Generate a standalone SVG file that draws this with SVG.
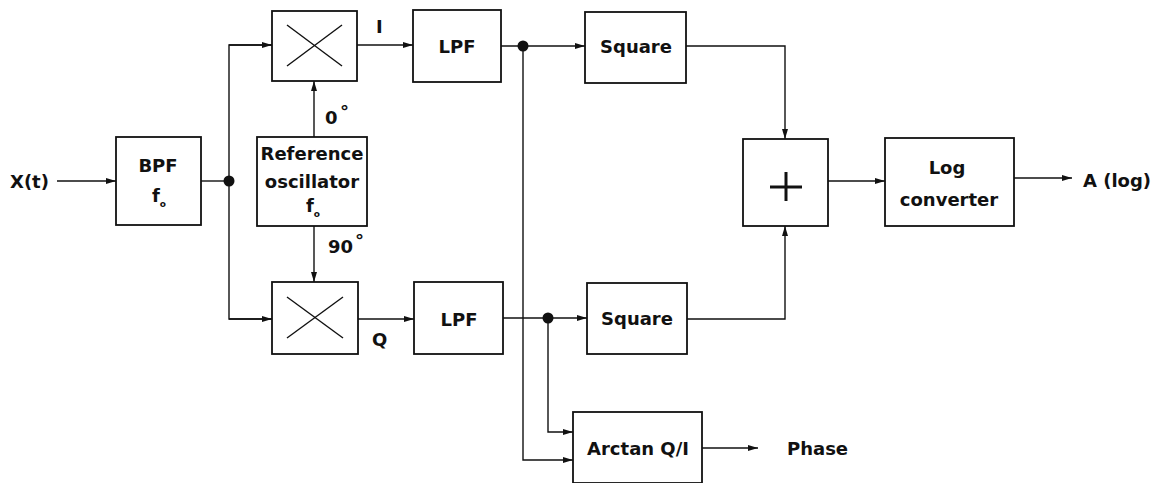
<svg xmlns="http://www.w3.org/2000/svg" width="1165" height="483" viewBox="0 0 1165 483">
<style>
.box{fill:#fff;stroke:#111;stroke-width:1.8}
.ln{fill:none;stroke:#111;stroke-width:1.4}
.t{font-family:"DejaVu Sans","Liberation Sans",sans-serif;font-weight:bold;font-size:18px;fill:#111}
.c{text-anchor:middle}
.sub{font-size:9px}
</style>
<defs>
<marker id="ah" viewBox="0 0 10 6" refX="10" refY="3" markerWidth="10" markerHeight="6" markerUnits="userSpaceOnUse" orient="auto">
<path d="M0,0 L10,3 L0,6 Z" fill="#111"/>
</marker>
</defs>
<rect width="1165" height="483" fill="#fff"/>
<g id="connectors">
<line class="ln" x1="57" y1="181" x2="116" y2="181" marker-end="url(#ah)"/>
<line class="ln" x1="201" y1="181" x2="229" y2="181"/>
<polyline class="ln" points="272,45 229,45 229,319 272,319"/>
<line class="ln" x1="229" y1="45" x2="272" y2="45" marker-end="url(#ah)"/>
<line class="ln" x1="229" y1="319" x2="272" y2="319" marker-end="url(#ah)"/>
<line class="ln" x1="314" y1="137" x2="314" y2="81" marker-end="url(#ah)"/>
<line class="ln" x1="314" y1="226" x2="314" y2="282" marker-end="url(#ah)"/>
<line class="ln" x1="357" y1="45" x2="413" y2="45" marker-end="url(#ah)"/>
<line class="ln" x1="358" y1="319" x2="414" y2="319" marker-end="url(#ah)"/>
<line class="ln" x1="501" y1="46" x2="585" y2="46" marker-end="url(#ah)"/>
<polyline class="ln" points="523,46 523,460 573,460" marker-end="url(#ah)"/>
<line class="ln" x1="503" y1="318" x2="587" y2="318" marker-end="url(#ah)"/>
<polyline class="ln" points="548,318 548,432 573,432" marker-end="url(#ah)"/>
<polyline class="ln" points="686,46 785,46 785,139" marker-end="url(#ah)"/>
<polyline class="ln" points="687,319 785,319 785,226" marker-end="url(#ah)"/>
<line class="ln" x1="828" y1="181" x2="885" y2="181" marker-end="url(#ah)"/>
<line class="ln" x1="1014" y1="178" x2="1072" y2="178" marker-end="url(#ah)"/>
<line class="ln" x1="702" y1="448" x2="758" y2="448" marker-end="url(#ah)"/>
<circle cx="229" cy="181" r="5.5" fill="#111"/>
<circle cx="523" cy="46" r="5.5" fill="#111"/>
<circle cx="548" cy="318" r="5.5" fill="#111"/>
</g>
<g id="input"><text class="t" x="10" y="188">X(t)</text></g>
<g id="bpf">
<rect class="box" x="116" y="137" width="85" height="88"/>
<text class="t c" x="158" y="172">BPF</text>
<text class="t" x="152" y="202">f<tspan class="sub" dy="5">o</tspan></text>
</g>
<g id="mult-top">
<rect class="box" x="272" y="11" width="85" height="70"/>
<line class="ln" x1="287" y1="25" x2="342" y2="66"/>
<line class="ln" x1="342" y1="25" x2="287" y2="66"/>
</g>
<g id="ref-osc">
<rect class="box" x="257" y="137" width="110" height="89"/>
<text class="t c" x="312" y="160">Reference</text>
<text class="t c" x="312" y="188">oscillator</text>
<text class="t" x="306" y="212">f<tspan class="sub" dy="5">o</tspan></text>
</g>
<g id="mult-bottom">
<rect class="box" x="272" y="282" width="86" height="72"/>
<line class="ln" x1="287" y1="297" x2="343" y2="338"/>
<line class="ln" x1="343" y1="297" x2="287" y2="338"/>
</g>
<g id="labels">
<text class="t" x="325" y="124">0</text>
<text class="t" x="340" y="118">°</text>
<text class="t" x="328" y="253">90</text>
<text class="t" x="355" y="247">°</text>
<text class="t" x="376" y="33">I</text>
<text class="t" x="372" y="346">Q</text>
</g>
<g id="lpf-top">
<rect class="box" x="413" y="10" width="88" height="72"/>
<text class="t c" x="457" y="53">LPF</text>
</g>
<g id="lpf-bottom">
<rect class="box" x="414" y="282" width="89" height="72"/>
<text class="t c" x="459" y="326">LPF</text>
</g>
<g id="square-top">
<rect class="box" x="585" y="12" width="101" height="71"/>
<text class="t c" x="636" y="53">Square</text>
</g>
<g id="square-bottom">
<rect class="box" x="587" y="283" width="100" height="71"/>
<text class="t c" x="637" y="325">Square</text>
</g>
<g id="adder">
<rect class="box" x="743" y="139" width="85" height="87"/>
<line x1="770" y1="187" x2="802" y2="187" stroke="#111" stroke-width="3"/>
<line x1="786" y1="172" x2="786" y2="201" stroke="#111" stroke-width="3"/>
</g>
<g id="log-conv">
<rect class="box" x="885" y="138" width="129" height="88"/>
<text class="t c" x="947" y="174">Log</text>
<text class="t c" x="949" y="206">converter</text>
</g>
<g id="output-amp"><text class="t" x="1083" y="187">A (log)</text></g>
<g id="arctan">
<rect class="box" x="573" y="412" width="129" height="71"/>
<text class="t c" x="638" y="455">Arctan Q/I</text>
</g>
<g id="output-phase"><text class="t" x="787" y="455">Phase</text></g>
</svg>
